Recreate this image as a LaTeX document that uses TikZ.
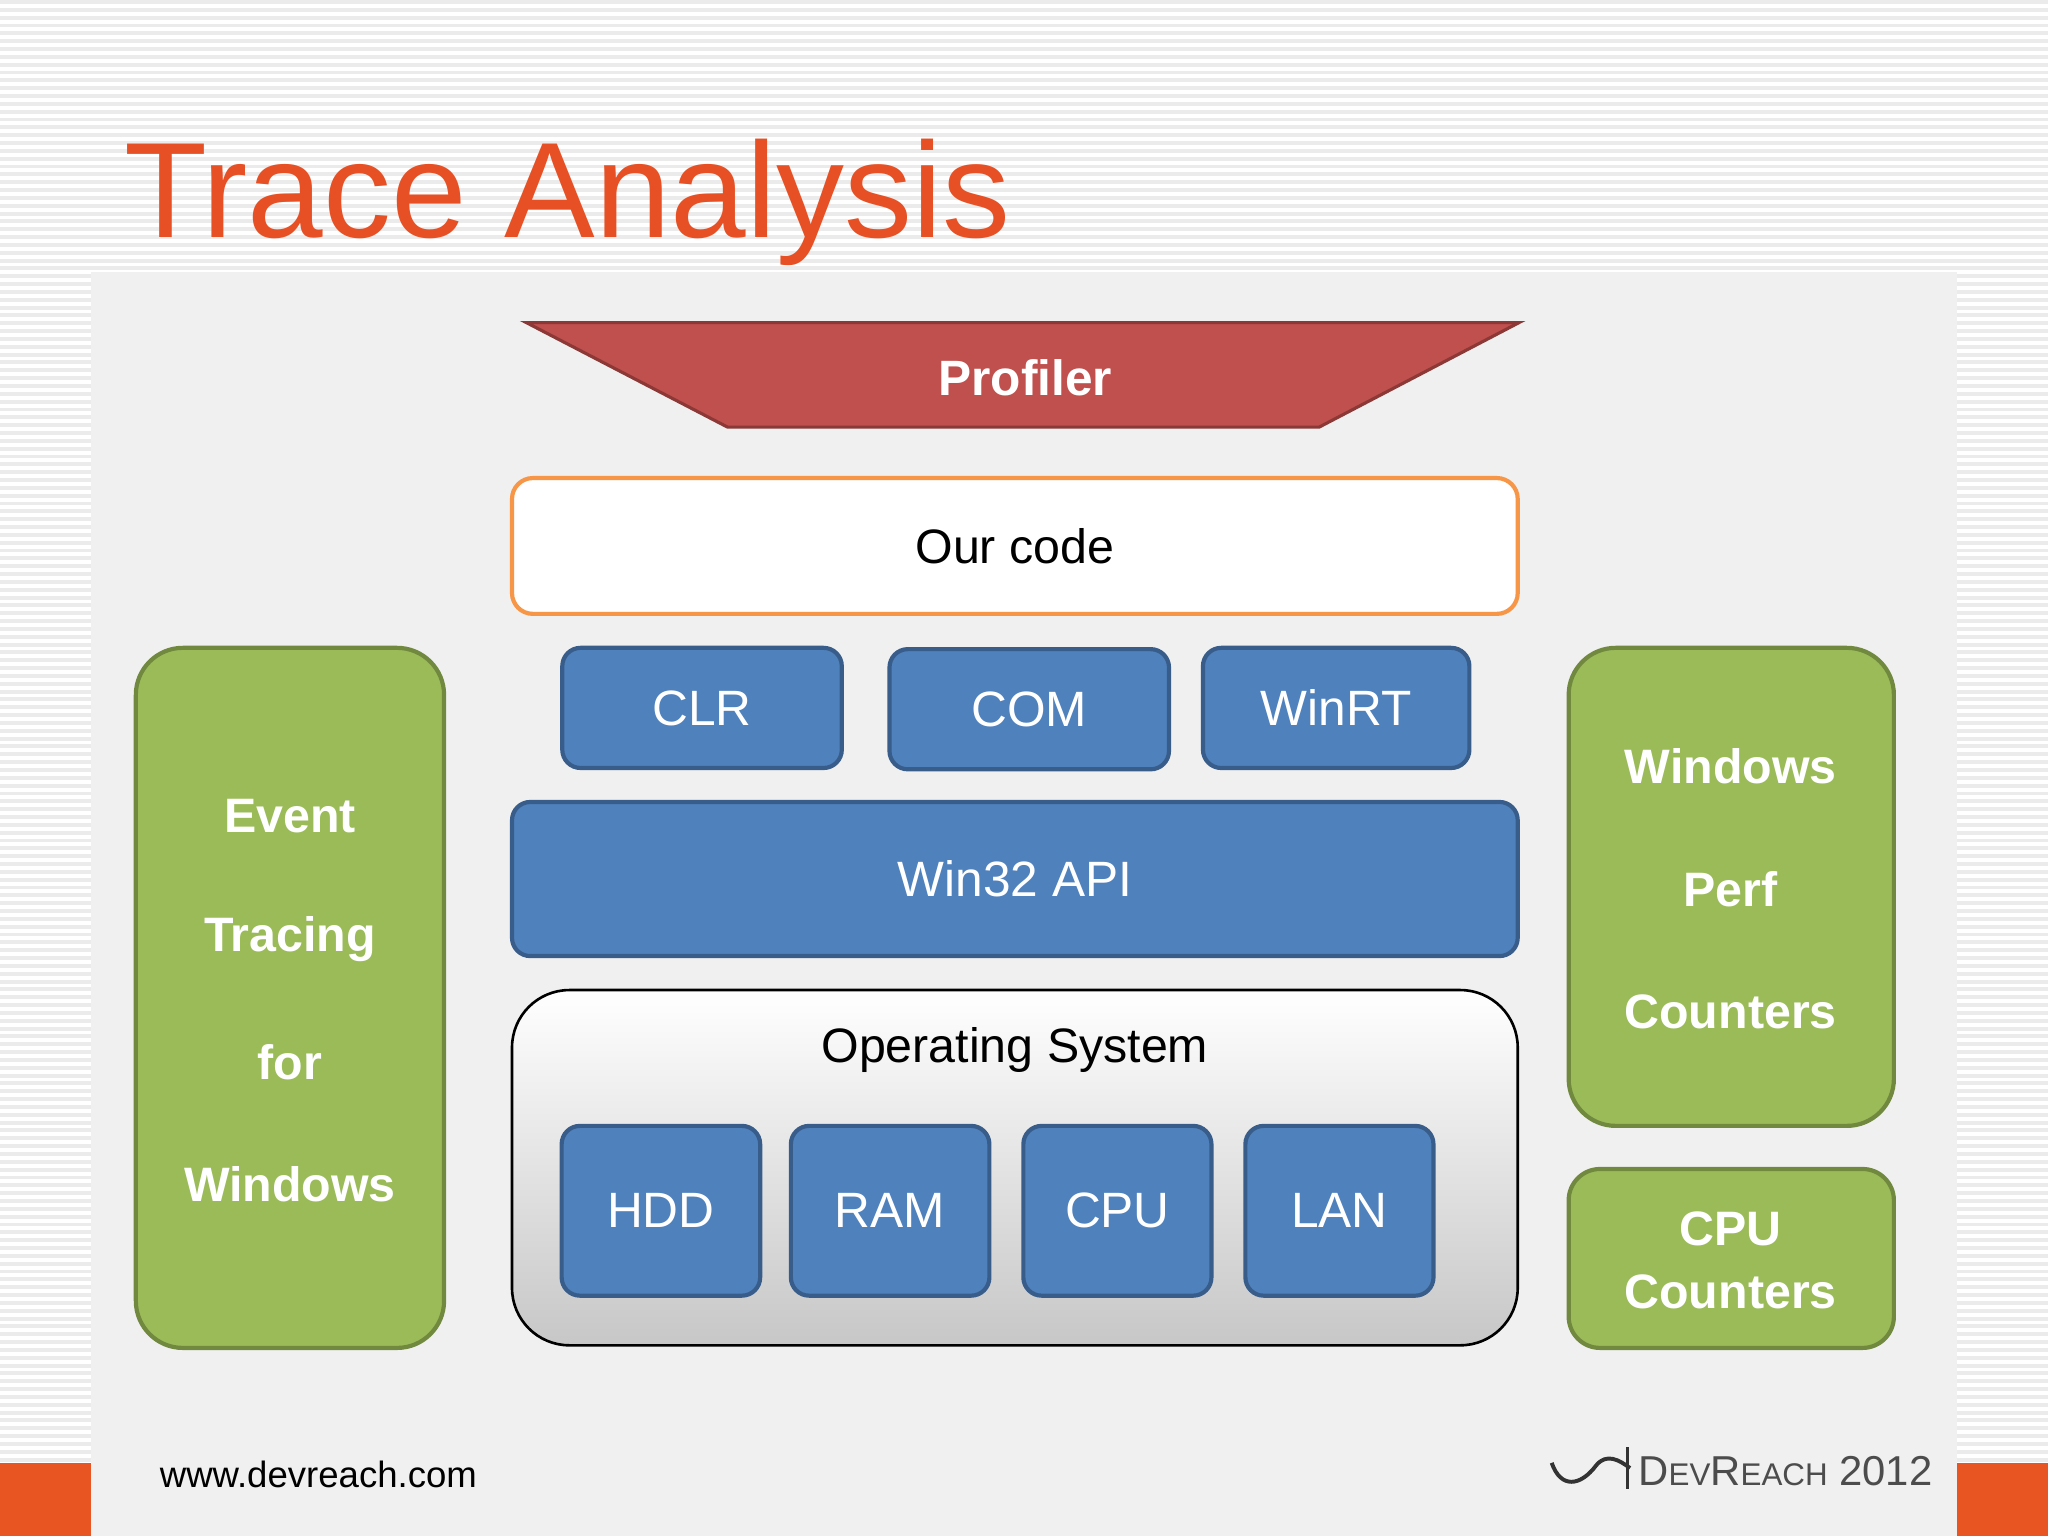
\documentclass[tikz,border=0pt]{standalone}
\usepackage{fontspec}
\setmainfont{Liberation Sans}
\definecolor{obar}{RGB}{232,84,34}
\definecolor{otitle}{RGB}{230,80,36}
\definecolor{pfill}{RGB}{192,80,77}
\definecolor{pdraw}{RGB}{140,56,54}
\definecolor{ocode}{RGB}{247,150,70}
\definecolor{bfill}{RGB}{79,129,189}
\definecolor{bdraw}{RGB}{56,93,138}
\definecolor{gfill}{RGB}{155,187,89}
\definecolor{gdraw}{RGB}{113,137,63}
\begin{document}
\begin{tikzpicture}[x=0.5pt,y=-0.5pt,
  blue/.style={draw=bdraw,line width=1.6pt,fill=bfill,rounded corners=7pt,text=white,font=\fontsize{19}{22}\selectfont},
  green/.style={draw=gdraw,line width=1.6pt,fill=gfill,rounded corners=18pt},
  gtext/.style={text=white,font=\bfseries\fontsize{18.5}{22}\selectfont}]
\useasboundingbox (0,0) rectangle (1568,1176);
\fill[white] (0,0) rectangle (1568,1176);
\foreach \y in {0,6,...,1176} \fill[black!8] (0,\y) rectangle (1568,\y+3);
\fill[black!6!white] (70,208) rectangle (1498,1176);
\fill[obar] (0,1120) rectangle (70,1176);
\fill[obar] (1498,1120) rectangle (1568,1176);
\node[anchor=base west,inner sep=0,text=otitle,font=\fontsize{52}{60}\selectfont] (title) at (95,182) {Trace Analysis};
\draw[fill=pfill,draw=pdraw,line width=1.2pt] (403,247) -- (1163,247) -- (1010,327) -- (557,327) -- cycle;
\node[text=white,font=\bfseries\fontsize{19}{22}\selectfont] (prof) at (785,289) {Profiler};
\node[draw=ocode,line width=1.6pt,fill=white,rounded corners=8pt,minimum width=385pt,minimum height=52pt,font=\fontsize{18.5}{22}\selectfont] (our) at (777,418) {Our code};
\node[blue,minimum width=107pt,minimum height=46pt] (clr) at (537.5,542) {CLR};
\node[blue,minimum width=107pt,minimum height=46pt] (com) at (788,543) {COM};
\node[blue,minimum width=102pt,minimum height=46pt] (winrt) at (1023,542) {WinRT};
\node[blue,minimum width=385pt,minimum height=59pt] (win32) at (777,673) {Win32 API};
\draw[line width=1pt,top color=white,bottom color=black!22,rounded corners=22pt] (392,758) rectangle (1162,1030);
\node[font=\fontsize{18.5}{22}\selectfont] (os) at (777,804) {Operating System};
\node[blue,minimum width=76pt,minimum height=65pt] (hdd) at (506,927) {HDD};
\node[blue,minimum width=76pt,minimum height=65pt] (ram) at (681.5,927) {RAM};
\node[blue,minimum width=72pt,minimum height=65pt] (cpu) at (855.5,927) {CPU};
\node[blue,minimum width=72pt,minimum height=65pt] (lan) at (1025.5,927) {LAN};
\draw[green] (104,496) rectangle (340,1032);
\foreach \t/\y in {Event/625,Tracing/719,for/813,Windows/907} \node[gtext] at (222,\y) {\t};
\draw[green] (1201,496) rectangle (1450,862);
\foreach \t/\y in {Windows/587,Perf/681,Counters/775} \node[gtext] at (1325,\y) {\t};
\draw[green,rounded corners=12pt] (1201,895) rectangle (1450,1032);
\node[gtext] (cc1) at (1325,941) {CPU};
\node[gtext] (cc2) at (1325,989) {Counters};
\node[anchor=base west,inner sep=0,font=\fontsize{14}{16}\selectfont] (url) at (122,1139) {www.devreach.com};
\node[anchor=base west,inner sep=0,text=black!70,font=\fontsize{16}{18}\selectfont] (dr) at (1254,1137) {D{\fontsize{12}{14}\selectfont EV}R{\fontsize{12}{14}\selectfont EACH} 2012};
\draw[line width=1.5pt,black!80] (1188,1120) .. controls (1195,1140) and (1210,1138) .. (1222,1122) .. controls (1230,1112) and (1240,1118) .. (1248,1124);
\draw[line width=1pt,black!80] (1246,1108) -- (1246,1140);
\end{tikzpicture}
\end{document}
